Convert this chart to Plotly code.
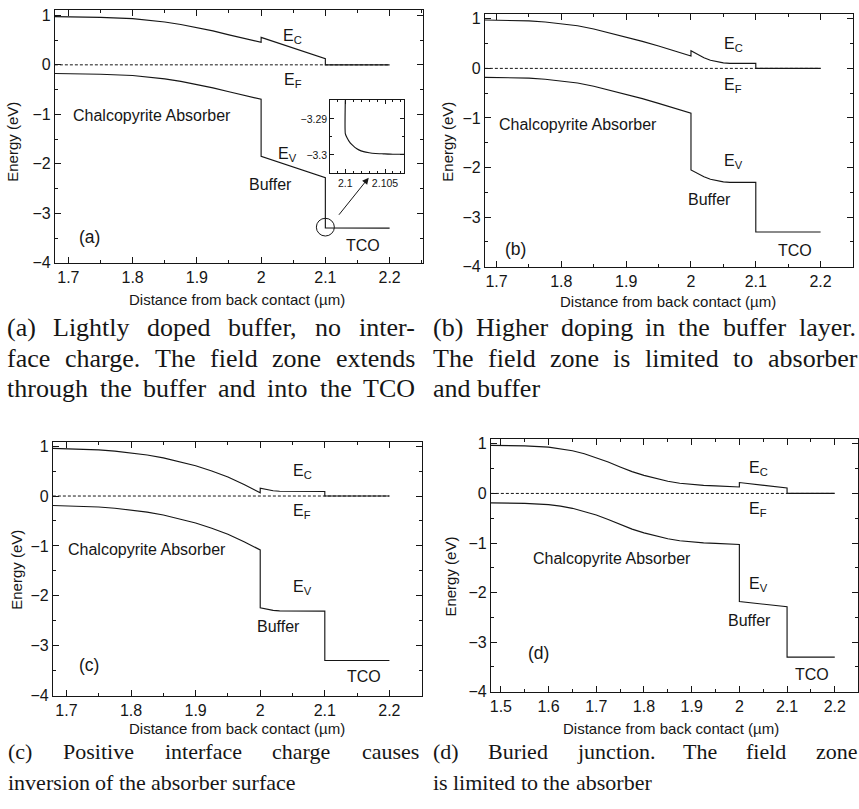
import plotly.graph_objects as go

W, H = 859, 809

# ---------------- data ----------------
# panel (a): lightly doped buffer
a_abs_x = [1.679, 1.70, 1.75, 1.80, 1.825, 1.85, 1.875, 1.90, 1.925, 1.95, 1.975, 2.00]
a_abs_ec = [0.975, 0.975, 0.96, 0.935, 0.905, 0.865, 0.815, 0.755, 0.685, 0.605, 0.53, 0.455]
a_abs_ev = [-0.175, -0.175, -0.19, -0.215, -0.245, -0.285, -0.335, -0.395, -0.465, -0.545, -0.62, -0.695]
a_buf_x = [2.00, 2.10]
a_buf_ec = [0.555, 0.125]
a_buf_ev = [-1.85, -2.28]
a_tco_x = [2.10, 2.20]
a_tco_ec = [0.0, 0.0]
a_tco_ev = [-3.294, -3.30]

# inset of (a)
ins_x = [2.1, 2.1, 2.1002, 2.1005, 2.1008, 2.1012, 2.1017, 2.1023, 2.1030, 2.1038, 2.1048, 2.1060, 2.1074]
ins_y = [-3.2848, -3.2941, -3.2952, -3.2963, -3.2971, -3.2979, -3.2986, -3.2991, -3.2994, -3.2996,
         -3.2997, -3.2998, -3.2998]

# panel (b): higher doping in the buffer
b_abs_x = [1.682, 1.70, 1.725, 1.75, 1.775, 1.80, 1.825, 1.85, 1.875, 1.90, 1.925, 1.95, 1.975, 2.00]
b_abs_ec = [0.975, 0.973, 0.968, 0.958, 0.935, 0.905, 0.86, 0.795, 0.715, 0.632, 0.545, 0.45, 0.35, 0.25]
b_abs_ev = [-0.18, -0.182, -0.187, -0.197, -0.22, -0.25, -0.295, -0.36, -0.44, -0.523, -0.61, -0.705,
            -0.805, -0.905]
b_buf_x = [2.00, 2.01, 2.02, 2.03, 2.04, 2.05, 2.06, 2.08, 2.10]
b_buf_ec = [0.355, 0.28, 0.215, 0.165, 0.13, 0.11, 0.102, 0.10, 0.10]
b_buf_ev = [-2.05, -2.12, -2.185, -2.235, -2.27, -2.29, -2.298, -2.30, -2.30]
b_tco_x = [2.10, 2.20]
b_tco_ec = [0.0, 0.0]
b_tco_ev = [-3.30, -3.30]

# panel (c): positive interface charge
c_abs_x = [1.679, 1.70, 1.725, 1.75, 1.775, 1.80, 1.825, 1.85, 1.875, 1.90, 1.925, 1.95, 1.975, 2.00]
c_abs_ec = [0.955, 0.95, 0.94, 0.925, 0.90, 0.868, 0.822, 0.765, 0.69, 0.605, 0.50, 0.38, 0.23, 0.066]
c_abs_ev = [-0.19, -0.195, -0.205, -0.22, -0.245, -0.277, -0.323, -0.38, -0.455, -0.54, -0.645,
            -0.765, -0.915, -1.08]
c_buf_x = [2.00, 2.01, 2.02, 2.03, 2.05, 2.10]
c_buf_ec = [0.158, 0.125, 0.105, 0.095, 0.09, 0.09]
c_buf_ev = [-2.24, -2.27, -2.29, -2.30, -2.305, -2.305]
c_tco_x = [2.10, 2.20]
c_tco_ec = [0.0, 0.0]
c_tco_ev = [-3.295, -3.295]

# panel (d): buried junction
d_abs_x = [1.479, 1.50, 1.55, 1.60, 1.625, 1.65, 1.675, 1.70, 1.725, 1.75, 1.775, 1.80, 1.825, 1.85,
           1.875, 1.90, 1.925, 1.95, 1.975, 2.00]
d_abs_ec = [0.97, 0.97, 0.96, 0.935, 0.905, 0.86, 0.80, 0.725, 0.635, 0.535, 0.44, 0.365, 0.30, 0.245,
            0.205, 0.178, 0.163, 0.152, 0.142, 0.13]
d_abs_ev = [-0.19, -0.19, -0.2, -0.225, -0.255, -0.30, -0.36, -0.435, -0.525, -0.625, -0.72, -0.795,
            -0.86, -0.915, -0.955, -0.982, -0.997, -1.008, -1.018, -1.03]
d_buf_x = [2.00, 2.10]
d_buf_ec = [0.22, 0.11]
d_buf_ev = [-2.18, -2.285]
d_tco_x = [2.10, 2.20]
d_tco_ec = [0.0, 0.0]
d_tco_ev = [-3.30, -3.30]

# captions (text of the figure)
captions = {
    "a": ["(a) Lightly doped buffer, no inter-", "face charge. The field zone extends",
          "through the buffer and into the TCO"],
    "b": ["(b) Higher doping in the buffer layer.", "The field zone is limited to absorber", "and buffer"],
    "c": ["(c) Positive interface charge causes", "inversion of the absorber surface"],
    "d": ["(d) Buried junction. The field zone", "is limited to the absorber"],
}
justified = {"a": [True, True, True], "b": [True, True, False], "c": [True, False], "d": [True, False]}

# ---------------- style ----------------
INK = "#161616"
SANS = "Liberation Sans, Arial, sans-serif"
SERIF = "Liberation Serif, Times New Roman, serif"
LW = 1.15

fig = go.Figure()


def px_x(p):
    return p / W


def px_y(p):
    return 1 - p / H


panels = {
    "a": ("x", "y", (54, 423), (6, 263), [1.679, 2.252], [-4, 1.11]),
    "b": ("x2", "y2", (485, 854), (10, 267), [1.682, 2.250], [-4, 1.10]),
    "c": ("x3", "y3", (52, 422), (445, 703), [1.679, 2.2505], [-4, 1.085]),
    "d": ("x4", "y4", (491, 859), (442, 699), [1.479, 2.2487], [-4, 1.10]),
}

series = {
    "a": (a_abs_x, a_abs_ec, a_abs_ev, a_buf_x, a_buf_ec, a_buf_ev, a_tco_x, a_tco_ec, a_tco_ev),
    "b": (b_abs_x, b_abs_ec, b_abs_ev, b_buf_x, b_buf_ec, b_buf_ev, b_tco_x, b_tco_ec, b_tco_ev),
    "c": (c_abs_x, c_abs_ec, c_abs_ev, c_buf_x, c_buf_ec, c_buf_ev, c_tco_x, c_tco_ec, c_tco_ev),
    "d": (d_abs_x, d_abs_ec, d_abs_ev, d_buf_x, d_buf_ec, d_buf_ev, d_tco_x, d_tco_ec, d_tco_ev),
}

layout_axes = {}


def axis_dict(dom, rng, dtick, tick0, mdtick, anchor, fsize=16, ticklen=6, mlen=3):
    return dict(
        domain=dom, range=rng, anchor=anchor, showline=True, linecolor=INK, linewidth=1,
        mirror="allticks", ticks="inside", ticklen=ticklen, tickwidth=1, tickcolor=INK,
        tick0=tick0, dtick=dtick, showgrid=False, zeroline=False, ticklabelstandoff=0,
        minor=dict(ticks="inside", ticklen=mlen, tickwidth=1, tickcolor=INK, dtick=mdtick, tick0=tick0,
                   showgrid=False),
        tickfont=dict(family=SANS, size=fsize, color=INK),
    )


for key, (xa, ya, xd, yd, xr, yr) in panels.items():
    xs_abs, ec_abs, ev_abs, xs_buf, ec_buf, ev_buf, xs_tco, ec_tco, ev_tco = series[key]
    fig.add_trace(go.Scatter(x=[xs_abs[0], xs_tco[-1]], y=[0, 0], mode="lines", xaxis=xa, yaxis=ya,
                             line=dict(color=INK, width=1, dash="3px,2px"), showlegend=False,
                             hoverinfo="skip"))
    fig.add_trace(go.Scatter(x=xs_abs + xs_buf + xs_tco, y=ec_abs + ec_buf + ec_tco, mode="lines",
                             xaxis=xa, yaxis=ya, line=dict(color=INK, width=LW), showlegend=False,
                             name="E_C"))
    fig.add_trace(go.Scatter(x=xs_abs + xs_buf + xs_tco, y=ev_abs + ev_buf + ev_tco, mode="lines",
                             xaxis=xa, yaxis=ya, line=dict(color=INK, width=LW), showlegend=False,
                             name="E_V"))
    xname = "xaxis" + xa[1:]
    yname = "yaxis" + ya[1:]
    layout_axes[xname] = axis_dict([px_x(xd[0]), px_x(xd[1])], xr, 0.1, 1.5, 0.05, ya)
    layout_axes[yname] = axis_dict([px_y(yd[1]), px_y(yd[0])], yr, 1, 0, 0.5, xa)

# inset of (a)
fig.add_trace(go.Scatter(x=ins_x, y=ins_y, mode="lines", xaxis="x5", yaxis="y5",
                         line=dict(color=INK, width=LW, shape="spline", smoothing=0.5), showlegend=False))
layout_axes["xaxis5"] = axis_dict([px_x(330), px_x(404)], [2.0981, 2.1074], 0.005, 2.1, 0.001, "y5",
                                  fsize=10.5, ticklen=4, mlen=2)
layout_axes["yaxis5"] = axis_dict([px_y(171.7), px_y(97.7)], [-3.305, -3.2848], 0.01, -3.3, 0.005, "x5",
                                  fsize=10.5, ticklen=4, mlen=2)

annotations = []

labels = {
    "a": [(2.049, 0.57, "E<sub>C</sub>"), (2.049, -0.32, "E<sub>F</sub>"), (1.83, -1.02, "Chalcopyrite Absorber"),
          (2.041, -1.81, "E<sub>V</sub>"), (2.015, -2.41, "Buffer"), (1.733, -3.48, "(a)"), (2.159, -3.65, "TCO")],
    "b": [(2.065, 0.49, "E<sub>C</sub>"), (2.065, -0.34, "E<sub>F</sub>"), (1.825, -1.14, "Chalcopyrite Absorber"),
          (2.065, -1.87, "E<sub>V</sub>"), (2.029, -2.64, "Buffer"), (1.73, -3.64, "(b)"), (2.16, -3.67, "TCO")],
    "c": [(2.065, 0.49, "E<sub>C</sub>"), (2.065, -0.31, "E<sub>F</sub>"), (1.825, -1.07, "Chalcopyrite Absorber"),
          (2.065, -1.84, "E<sub>V</sub>"), (2.029, -2.62, "Buffer"), (1.735, -3.39, "(c)"), (2.16, -3.62, "TCO")],
    "d": [(2.04, 0.505, "E<sub>C</sub>"), (2.04, -0.32, "E<sub>F</sub>"), (1.733, -1.32, "Chalcopyrite Absorber"),
          (2.04, -1.84, "E<sub>V</sub>"), (2.022, -2.56, "Buffer"), (1.579, -3.22, "(d)"), (2.152, -3.65, "TCO")],
}
for key, items in labels.items():
    xa, ya = panels[key][0], panels[key][1]
    for (lx, ly, txt) in items:
        size = 17.5 if txt.startswith("(") else 16
        annotations.append(dict(x=lx, y=ly, xref=xa, yref=ya, text=txt, showarrow=False,
                                xanchor="center", yanchor="middle",
                                font=dict(family=SANS, size=size, color=INK)))

xtitles = {"a": (237, 300), "b": (669, 302), "c": (237, 736), "d": (672, 736)}
ytitles = {"a": (12, 140), "b": (448, 140), "c": (16, 575), "d": (451, 582)}
for key in panels:
    tx, ty = xtitles[key]
    annotations.append(dict(x=px_x(tx), y=px_y(ty), xref="paper", yref="paper", showarrow=False,
                            xanchor="center", yanchor="middle",
                            text="Distance from back contact (µm)",
                            font=dict(family=SANS, size=15, color=INK)))
    tx, ty = ytitles[key]
    annotations.append(dict(x=px_x(tx), y=px_y(ty), xref="paper", yref="paper", showarrow=False,
                            xanchor="center", yanchor="middle",
                            text="Energy (eV)", textangle=-90,
                            font=dict(family=SANS, size=15, color=INK)))

annotations.append(dict(x=2.1675, y=-2.28, ax=2.1193, ay=-3.06, xref="x", yref="y", axref="x", ayref="y",
                        showarrow=True, arrowhead=2, arrowsize=1.3, arrowwidth=1, arrowcolor=INK, text=""))

# captions, justified word by word (Times metrics)
TW = {" ": 250, "(": 333, ")": 333, ",": 250, ".": 250, "-": 333,
      "a": 444, "b": 500, "c": 444, "d": 500, "e": 444, "f": 333, "g": 500, "h": 500, "i": 278, "j": 278,
      "k": 500, "l": 278, "m": 778, "n": 500, "o": 500, "p": 500, "q": 500, "r": 333, "s": 389, "t": 278,
      "u": 500, "v": 500, "w": 722, "x": 500, "y": 500, "z": 444,
      "B": 667, "C": 667, "H": 722, "L": 611, "O": 722, "P": 556, "T": 611}


def tw(s, size):
    return sum(TW.get(ch, 500) for ch in s) * size / 1000.0


cap_size = {"a": 26, "b": 26, "c": 22, "d": 22}
cap_cols = {"a": (5, 414), "b": (432, 857), "c": (6, 418), "d": (432, 857)}
cap_rows = {"a": [329, 360, 391], "b": [329, 360, 391], "c": [760, 791], "d": [760, 791]}
for key, lines in captions.items():
    x0, x1 = cap_cols[key]
    sz = cap_size[key]
    for line, yc, just in zip(lines, cap_rows[key], justified[key]):
        words = line.split(" ")
        widths = [tw(w, sz) for w in words]
        if just and len(words) > 1:
            gap = (x1 - x0 - sum(widths)) / (len(words) - 1)
        else:
            gap = tw(" ", sz)
        xx = x0
        for w, wd in zip(words, widths):
            annotations.append(dict(x=px_x(xx), y=px_y(yc), xref="paper", yref="paper", xanchor="left",
                                    yanchor="middle", align="left", showarrow=False, text=w, borderpad=0,
                                    font=dict(family=SERIF, size=sz, color=INK)))
            xx += wd + gap

shapes = [dict(type="circle", xref="x", yref="y", x0=2.1 - 0.014, x1=2.1 + 0.014, y0=-3.28 - 0.179,
               y1=-3.28 + 0.179, line=dict(color=INK, width=1))]

fig.update_layout(
    width=W, height=H, margin=dict(l=0, r=0, t=0, b=0),
    paper_bgcolor="white", plot_bgcolor="rgba(0,0,0,0)",
    showlegend=False, annotations=annotations, shapes=shapes,
    **layout_axes,
)

fig.write_html("out.html", config={"displayModeBar": False},
               post_script="document.body.style.margin='0px';")
